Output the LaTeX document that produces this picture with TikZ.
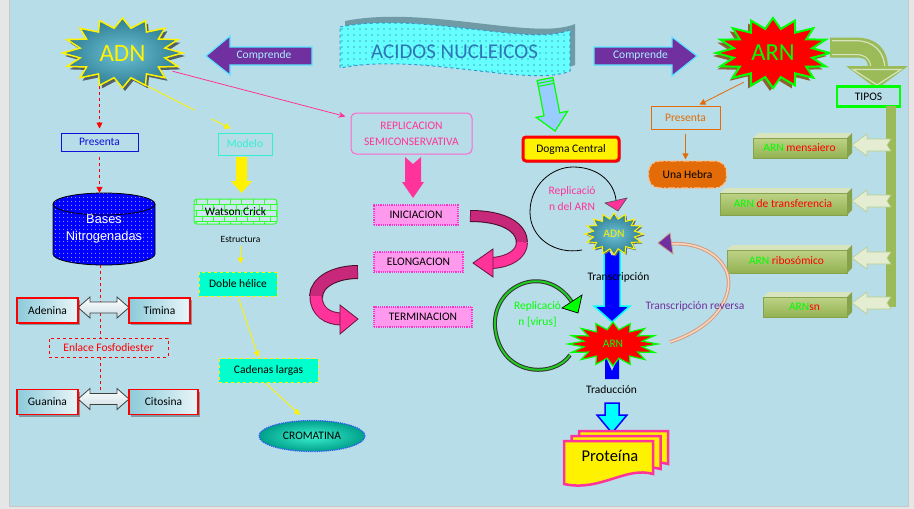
\documentclass[tikz,border=0pt]{standalone}
\usepackage{fontspec}
\setmainfont{Carlito}
\newfontfamily\arialf{Liberation Sans}
\usetikzlibrary{shapes.geometric,arrows.meta,patterns,patterns.meta,shadows,calc}
\definecolor{bgc}{HTML}{B7DDE8}
\definecolor{sidec}{HTML}{E6E6E6}
\definecolor{edgec}{HTML}{C8C8C8}
\definecolor{purp}{HTML}{7030A0}
\definecolor{arrowcyan}{HTML}{5CE6FF}
\definecolor{comptxt}{HTML}{A8F0FF}
\definecolor{hotpink}{HTML}{FF3399}
\definecolor{lightpink}{HTML}{FF66CC}
\definecolor{boxpink}{HTML}{FF99EE}
\definecolor{dotpink}{HTML}{FF33CC}
\definecolor{ribdark}{HTML}{C8287A}
\definecolor{olivec}{HTML}{9BBB59}
\definecolor{olivelt}{HTML}{D7E4BD}
\definecolor{typeside}{HTML}{86A24A}
\definecolor{typeT}{HTML}{BDD387}
\definecolor{typeB}{HTML}{93B150}
\definecolor{typeArr}{HTML}{E4EDD2}
\definecolor{typeArrB}{HTML}{B8CC8C}
\definecolor{orangec}{HTML}{E36C09}
\definecolor{hebrab}{HTML}{FAC090}
\definecolor{aquac}{HTML}{00FFCC}
\definecolor{limec}{HTML}{00FF00}
\definecolor{greenarc}{HTML}{22CC22}
\definecolor{tealA}{HTML}{6CC2D4}
\definecolor{tealB}{HTML}{2F7D93}
\definecolor{bannerc}{HTML}{66FFFF}
\definecolor{bannertxt}{HTML}{2E75B6}
\definecolor{bannersh}{HTML}{6F9AA6}
\definecolor{dotblue}{HTML}{1F4E79}
\definecolor{dashblue}{HTML}{3399CC}
\definecolor{redc}{HTML}{FF0000}
\definecolor{salmonA}{HTML}{D09A86}
\definecolor{salmonB}{HTML}{FBD5B5}
\definecolor{modeltxt}{HTML}{33F0D0}
\definecolor{arrblue}{HTML}{99CCFF}
\definecolor{baseL}{HTML}{8CCAD9}
\definecolor{baseR}{HTML}{EAF6F9}
\definecolor{dblB}{HTML}{C9DDE3}
\definecolor{bluec}{HTML}{0000FF}
\definecolor{cyanc}{HTML}{00FFFF}
\definecolor{presblue}{HTML}{1010DD}
\definecolor{cromA}{HTML}{3CF2D0}
\definecolor{cromB}{HTML}{00A08A}
\definecolor{cromD}{HTML}{3355FF}
\definecolor{watsonG}{HTML}{33FF33}
\newcommand\mystar[6]{\path[#1] plot[samples at={0,...,31},variable=\k]({#2+#4*(1-(1-#6)*mod(\k,2))*cos(\k*11.25-90)},{#3+#5*(1-(1-#6)*mod(\k,2))*sin(\k*11.25-90)}) -- cycle;}
\newcommand\bannerpath{(340,27) .. controls (420,11) and (530,47) .. (570,30) -- (570,71) .. controls (530,88) and (420,52) .. (340,68) -- cycle}
\newcommand\typebox[4]{%
  \fill[olivelt] (#1,#2+5) -- (#1+5,#2) -- (#3,#2) -- (#3-5,#2+5) -- cycle;
  \path[top color=typeT, bottom color=typeB, draw=typeside, line width=0.5] (#1,#2+5) rectangle (#3-5,#4);
  \fill[typeside] (#3-5,#2+5) -- (#3,#2) -- (#3,#4-5) -- (#3-5,#4) -- cycle;}
\newcommand\typearrow[1]{%
  \path[fill=typeArr, draw=typeArrB, line width=0.6] (852,#1) -- (867,#1-11) -- (867,#1-6) -- (891,#1-6) -- (887,#1) -- (891,#1+6) -- (867,#1+6) -- (867,#1+11) -- cycle;}
\newcommand\dblarrow[3]{%
  \path[top color=white, bottom color=dblB, draw=black!75, line width=0.8] (#1,#3) -- (#1+12,#3-10.5) -- (#1+12,#3-5.5) -- (#2-12,#3-5.5) -- (#2-12,#3-10.5) -- (#2,#3) -- (#2-12,#3+10.5) -- (#2-12,#3+5.5) -- (#1+12,#3+5.5) -- (#1+12,#3+10.5) -- cycle;}
\newcommand\docshape[2]{(#1,#2) -- (#1+89,#2) -- (#1+89,#2+33) .. controls (#1+62,#2+25) and (#1+36,#2+51) .. (#1,#2+43) -- cycle}
\begin{document}
\begin{tikzpicture}[x=1pt,y=-1pt,
  every node/.style={inner sep=0pt, font=\fontsize{11.5}{14}\selectfont},
  tipS/.style={-{Triangle[length=6pt,width=6pt]}},
  stagebox/.style={draw=dotpink, densely dotted, line width=1.2, fill=boxpink, minimum height=20},
  basebox/.style={draw=redc, line width=1.1, left color=baseL, right color=baseR, minimum height=25, drop shadow={shadow xshift=2pt, shadow yshift=-2pt, fill=black, opacity=0.3}},
  aquabox/.style={fill=aquac, draw=yellow, dashed, line width=1, minimum height=24},
  starlabel/.style={ellipse, minimum width=#1},
]
\useasboundingbox (0,0) rectangle (914,509);
% background
\fill[sidec] (0,0) rectangle (914,509);
\fill[bgc] (10,0) rectangle (908,505.5);
\draw[edgec, line width=0.8] (9.6,0) -- (9.6,506) -- (908.4,506) -- (908.4,0);

% banner
\begin{scope}[shift={(5,-6)}]
  \fill[bannersh] \bannerpath;
\end{scope}
\path[preaction={fill=bannerc}, pattern={Dots[distance=6pt,radius=0.6pt]}, pattern color=dotblue, draw=dashblue, dashed, line width=1] \bannerpath;
\node[text=bannertxt, font=\fontsize{21}{24}\selectfont] (acidos) at (454.5,52) {ACIDOS NUCLEICOS};

% comprende arrows
\filldraw[fill=purp, draw=arrowcyan, line width=1.2] (312,47) -- (230,47) -- (230,36) -- (206,56) -- (230,75) -- (230,65) -- (312,65) -- cycle;
\node[text=comptxt] (compL) at (264,55.5) {Comprende};
\filldraw[fill=purp, draw=arrowcyan, line width=1.2] (594,47) -- (672,47) -- (672,37) -- (697,56) -- (672,76) -- (672,65) -- (594,65) -- cycle;
\node[text=comptxt] (compR) at (640.5,55.5) {Comprende};

% green arrow to dogma
\begin{scope}[shift={(545,79)}, rotate=-79]
  \filldraw[fill=arrblue, draw=limec, line width=1.2] (0,-8) -- (36,-8) -- (36,-16) -- (53,0) -- (36,16) -- (36,8) -- (0,8) -- cycle;
  \draw[limec, line width=1] (3,-8) -- (3,8) (6,-8) -- (6,8);
\end{scope}
\node[draw=redc, line width=3, fill=yellow, rounded corners=3, minimum width=96, minimum height=24, drop shadow={shadow xshift=1.5pt, shadow yshift=-1.5pt, fill=black, opacity=0.3}] (dogma) at (571,149) {Dogma Central};

% big stars
\mystar{fill=black!55!bgc}{125}{56}{60}{35}{0.72}
\mystar{draw=yellow, line width=1.5, inner color=tealA, outer color=tealB}{122.5}{53}{60}{35}{0.72}
\node[starlabel=118, minimum height=68, text=yellow, font=\fontsize{25}{28}\selectfont] (adn) at (122.5,53) {ADN};
\mystar{fill=brown!75!black}{770}{56}{57}{35}{0.7}
\mystar{fill=redc, draw=limec, line width=2}{773}{53}{57}{35}{0.7}
\node[starlabel=112, minimum height=68, text=limec, font=\fontsize{24.5}{28}\selectfont] (arn) at (773,53) {ARN};

% curved olive arrow to TIPOS
\draw[olivec, line width=20] (830,47.5) -- (855,47.5) .. controls (872,47.5) and (878,55) .. (878,69);
\draw[olivelt, line width=15] (832,47.5) -- (855,47.5) .. controls (870,47.5) and (878,56) .. (878,69);
\draw[olivec, line width=12.5] (832,47.5) -- (855,47.5) .. controls (870,47.5) and (878,56) .. (878,70);
\fill[olivec] (846,66) -- (908,66) -- (877,89) -- cycle;
\draw[olivelt, line width=1.2] (853,69.5) -- (901,69.5) -- (877,85) -- cycle;
\node[draw=limec, line width=2.5, fill=bgc, minimum width=63, minimum height=20] (tipos) at (868.5,96.5) {TIPOS};

% types
\fill[olivec] (886,106) rectangle (896,307);
\typebox{753}{133}{852}{158}
\typebox{720}{188}{852}{215}
\typebox{727}{245}{852}{273}
\typebox{763}{292}{852}{317}
\typearrow{145}
\typearrow{201}
\typearrow{258}
\typearrow{303}
\node (tmens) at (799.5,148) {\textcolor{limec}{ARN} \textcolor{redc}{mensaiero}};
\node (ttrans) at (783,204) {\textcolor{limec}{ARN} \textcolor{redc}{de transferencia}};
\node (tribo) at (786.5,261) {\textcolor{limec}{ARN} \textcolor{redc}{ribosómico}};
\node (tsn) at (804.5,307) {\textcolor{limec}{ARN}\textcolor{redc}{sn}};

% orange branch
\node[draw=orangec, line width=1, minimum width=69, minimum height=23, text=orangec] (presO) at (685.5,117.5) {Presenta};
\node[fill=orangec, draw=hebrab, line width=1.2, dash pattern=on 7pt off 2pt on 2pt off 2pt, rounded corners=11, minimum width=78, minimum height=27] (hebra) at (687.5,174.5) {Una Hebra};
\draw[orangec, line width=0.8, tipS] (arn.225) -- ($(presO.north)+(14,-1)$);
\draw[orangec, line width=0.8, tipS, shorten <=4pt, shorten >=1pt] (presO.south) -- (presO.south |- hebra.north);

% left: presenta, bases
\node[draw=presblue, line width=1, minimum width=77, minimum height=18, text=presblue] (presB) at (99.5,142) {Presenta};
\path[preaction={fill=bluec}, pattern={Dots[distance=4pt,radius=0.55pt]}, pattern color=white, draw=black, line width=0.8]
  (53,204) -- (53,254) arc[start angle=180, end angle=0, x radius=51, y radius=11] -- (155,204) arc[start angle=0, end angle=-180, x radius=51, y radius=11] -- cycle;
\draw[black, line width=0.8] (53,204) arc[start angle=180, end angle=0, x radius=51, y radius=11];
\node[minimum width=102, minimum height=72, text=white, align=center, font=\arialf\fontsize{12.8}{17}\selectfont] (bases) at (104,229) {Bases\\Nitrogenadas};
\draw[redc, dashed, line width=0.9, tipS, shorten >=4pt] (presB.north |- adn.250) -- (presB.north);
\draw[redc, dashed, line width=0.9, tipS, shorten <=5pt] (presB.south) -- (presB.south |- bases.north);

\node[draw=redc, dashed, line width=0.8, minimum width=119, minimum height=19, text=redc] (enlace) at (108.5,347.5) {Enlace Fosfodiester};
\coordinate (vline) at (100,0);
\coordinate (gcmid) at (100,396);
\draw[redc, dashed, line width=0.9] (bases.south -| vline) -- (enlace.north -| vline);
\draw[redc, dashed, line width=0.9] (enlace.south -| vline) -- (gcmid);
\dblarrow{78}{129}{307.5}
\dblarrow{78}{129}{399}
\node[basebox, minimum width=61] (adenina) at (47.5,310.5) {Adenina};
\node[basebox, minimum width=61] (timina) at (159.5,310.5) {Timina};
\node[basebox, minimum width=61] (guanina) at (47.5,402) {Guanina};
\node[basebox, minimum width=69] (citosina) at (163.5,402) {Citosina};

% modelo branch
\node[draw=modeltxt, line width=1, minimum width=54, minimum height=22, text=modeltxt] (modelo) at (245,144) {Modelo};
\coordinate (modIn) at ($(modelo.north west)+(13,-4)$);
\draw[yellow, line width=0.9, dash pattern=on 56pt off 19pt on 40pt, tipS] (adn.-55) -- (modIn);
\fill[yellow] (236,157) -- (247,157) -- (247,181) -- (252,181) -- (241.5,193) -- (231,181) -- (236,181) -- cycle;
\node[rounded corners=3, draw=watsonG, line width=1, preaction={fill=bgc!70!white}, pattern=bricks, pattern color=watsonG, minimum width=83, minimum height=25] (watson) at (235.5,211.5) {Watson Crick};
\node[font=\fontsize{9.5}{11}\selectfont] (estr) at (240.5,239) {Estructura};
\node[aquabox, minimum width=78] (doble) at (238,284) {Doble hélice};
\node[aquabox, minimum width=99] (cadenas) at (268.5,370.5) {Cadenas largas};
\node[ellipse, inner color=cromA, outer color=cromB, draw=cromD, densely dotted, line width=1.2, minimum width=106, minimum height=31] (crom) at (312,436) {CROMATINA};
\draw[yellow, line width=0.9, tipS, shorten <=4pt, shorten >=8pt] (estr.south) -- (estr.south |- doble.north);
\draw[yellow, line width=0.9, tipS, shorten <=2pt] (doble.south) -- ($(cadenas.north)+(-10,-1)$);
\draw[yellow, line width=0.9, tipS] ($(cadenas.south)+(-3,0)$) -- ($(crom.north)+(-12,-5)$);

% replication branch
\node[draw=lightpink, line width=1, rounded corners=5, minimum width=121, minimum height=41, align=center, text=hotpink, font=\fontsize{11.5}{16}\selectfont] (repl) at (411.5,133.5) {REPLICACION\\SEMICONSERVATIVA};
\coordinate (replIn) at ($(repl.north west)+(-5,4)$);
\draw[hotpink, line width=0.8, -{Stealth[length=7pt,width=6pt]}] (adn.-20) -- (replIn);
\fill[hotpink] (405,157) -- (413,164) -- (421,157) -- (421,182) -- (424,182) -- (413,198) -- (402,182) -- (405,182) -- cycle;
\node[stagebox, minimum width=84] (inic) at (416,215) {INICIACION};
\node[stagebox, minimum width=89] (elong) at (418.5,262) {ELONGACION};
\node[stagebox, minimum width=98] (termin) at (423,317) {TERMINACION};
% ribbon 1
\draw[line width=12, black!65!ribdark] (470,216) .. controls (505,216) and (522,228) .. (522,243);
\draw[line width=10, ribdark] (470.5,216) .. controls (505,216) and (522,228) .. (522,243);
\draw[line width=12, black!55!hotpink] (522,242) .. controls (522,255) and (508,262) .. (492,263);
\draw[line width=10, hotpink] (522,242) .. controls (522,255) and (508,262) .. (492,263);
\filldraw[fill=hotpink, draw=black!60!hotpink, line width=0.8] (473,263) -- (493,249) -- (493,277) -- cycle;
% ribbon 2
\draw[line width=14, black!65!ribdark] (358,272) .. controls (335,272) and (316,282) .. (316,297);
\draw[line width=12, ribdark] (357.5,272) .. controls (335,272) and (316,282) .. (316,297);
\draw[line width=13, black!55!hotpink] (316,296) .. controls (316,312) and (328,319) .. (342,319);
\draw[line width=11, hotpink] (316,296) .. controls (316,312) and (328,319) .. (342,319);
\filldraw[fill=hotpink, draw=black!60!hotpink, line width=0.8] (358,319) -- (340,305) -- (340,334) -- cycle;

% central dogma cycle
\fill[bluec] (604,243) -- (612,256) -- (620,243) -- (620,306) -- (630,306) -- (612,322) -- (594,306) -- (604,306) -- cycle;
\draw[cyanc, line width=1.5] (604,250) -- (604,306) -- (594,306) -- (612,322) -- (630,306) -- (620,306) -- (620,250);
\fill[bluec] (605,355) -- (612,371) -- (619,355) -- (619,379) -- (605,379) -- cycle;
\filldraw[fill=cyanc, draw=bluec, line width=1.5] (605,403) -- (619,403) -- (619,415) -- (627,415) -- (612,433) -- (597,415) -- (605,415) -- cycle;

\mystar{fill=black!50!bgc}{615.5}{235.5}{29}{21}{0.72}
\mystar{draw=yellow, line width=1, inner color=tealA, outer color=tealB}{614}{234}{29}{21}{0.72}
\node[starlabel=56, minimum height=40, text=yellow] (adn2) at (614,234) {ADN};
\mystar{fill=redc, draw=limec, line width=1.2}{613}{344}{45}{22}{0.66}
\node[starlabel=88, minimum height=42, text=limec] (arn2) at (613,344) {ARN};
\node (transc) at (618.5,277) {Transcripción};
\node (traduc) at (611.5,390) {Traducción};

% replication of ARN loop
\coordinate (rA) at ($(adn2)+(-32,16)$);
\coordinate (rB) at ($(adn2)+(2,-34)$);
\draw[black, line width=0.8] (rA) .. controls (555,255) and (530,238) .. (530,212) .. controls (530,185) and (552,167) .. (573,167) .. controls (598,167) and (614,182) .. (rB);
\filldraw[fill=hotpink, draw=black!70, line width=0.6] (605,203) -- (627,198) -- (618,211) -- cycle;
\node[text=hotpink, align=center, font=\fontsize{11.5}{16}\selectfont] (replarn) at (572,199) {Replicació\\n del ARN};

% replication virus loop
\coordinate (vA) at ($(arn2)+(-43,11)$);
\coordinate (vB) at ($(arn2)+(-41,-42)$);
\draw[black!80, line width=4] (vA) .. controls (555,378) and (500,378) .. (495,327) .. controls (492,285) and (545,262) .. (vB);
\draw[greenarc, line width=2] (vA) .. controls (555,378) and (500,378) .. (495,327) .. controls (492,285) and (545,262) .. (vB);
\filldraw[fill=limec, draw=black, line width=0.7] (562,308) -- (582,295) -- (578,313) -- cycle;
\node[text=limec, align=center, font=\fontsize{11.5}{16}\selectfont] (replvir) at (537.5,314) {Replicació\\n [virus]};

% reverse transcription
\coordinate (tA) at ($(arn2)+(57,-2)$);
\coordinate (tB) at ($(adn2)+(56,10)$);
\draw[salmonA, line width=3.5] (tA) .. controls (722,325) and (735,290) .. (726,270) .. controls (716,250) and (692,242) .. (tB);
\draw[salmonB, line width=1.6] (tA) .. controls (722,325) and (735,290) .. (726,270) .. controls (716,250) and (692,242) .. (tB);
\filldraw[fill=purp, draw=salmonA, line width=0.7] (658,243) -- (670,233) -- (673,254) -- cycle;
\node[text=purp] (revtxt) at (695,306) {Transcripción reversa};

% proteina
\path[fill=yellow, draw=hotpink, line width=2.5] \docshape{579}{431};
\path[fill=yellow, draw=hotpink, line width=2.5] \docshape{571.5}{436};
\path[fill=yellow, draw=hotpink, line width=2.5] \docshape{564}{441};
\node[font=\fontsize{16.5}{19}\selectfont] (prot) at (610,456) {Proteína};
\end{tikzpicture}
\end{document}
